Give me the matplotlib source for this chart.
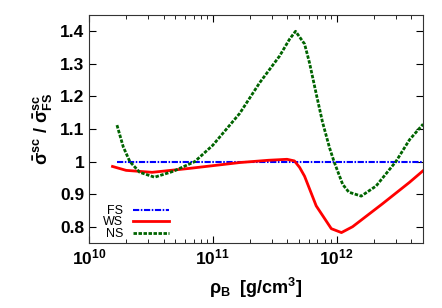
import matplotlib
matplotlib.use("Agg")
import matplotlib.pyplot as plt
import numpy as np

plt.rcParams['font.family'] = ['Liberation Sans', 'DejaVu Sans']
plt.rcParams['mathtext.fontset'] = 'custom'
plt.rcParams['mathtext.rm'] = 'Liberation Sans:bold'
plt.rcParams['mathtext.it'] = 'Liberation Sans:bold'
plt.rcParams['mathtext.bf'] = 'Liberation Sans:bold'

# log10 of density (g/cm^3)
ns_logx = [10.226, 10.277, 10.33, 10.41, 10.53, 10.68, 10.855, 11.0, 11.218, 11.379,
           11.540, 11.621, 11.669, 11.742, 11.782, 11.839, 11.887, 11.944, 11.98, 12.05,
           12.10, 12.20, 12.32, 12.48, 12.59, 12.70]
ns_y = [1.112, 1.045, 1.0, 0.967, 0.952, 0.970, 1.0, 1.05, 1.148, 1.242,
        1.324, 1.376, 1.4, 1.361, 1.303, 1.203, 1.121, 1.042, 1.0, 0.93,
        0.906, 0.894, 0.925, 1.0, 1.067, 1.115]

ws_logx = [10.19, 10.30, 10.51, 10.81, 11.218, 11.45, 11.6, 11.66, 11.702, 11.742,
           11.836, 11.958, 12.04, 12.13, 12.37, 12.589, 12.70]
ws_y = [0.985, 0.973, 0.967, 0.979, 0.997, 1.004, 1.007, 1.002, 0.982, 0.955,
        0.864, 0.794, 0.782, 0.80, 0.87, 0.936, 0.972]

fs_logx = [10.226, 12.70]
fs_y = [1.0, 1.0]

fig = plt.figure(figsize=(4.42, 3.08), dpi=100)
ax = fig.add_axes([89/442, 1-243/308, (423-89)/442, (243-15)/308])

ax.plot(10**np.array(fs_logx), fs_y, color='#0000ff', ls=(0, (3, 0.75, 0.75, 0.75)), lw=1.5, label='FS')
ax.plot(10**np.array(ws_logx), ws_y, color='#ff0000', ls='-', lw=2.0, label='WS')
ax.plot(10**np.array(ns_logx), ns_y, color='#006400', ls=(0, (1.25, 0.55)), lw=2.0, label='NS')

ax.set_xscale('log')
ax.set_xlim(1e10, 5e12)
ax.set_ylim(0.75, 1.45)
ax.set_yticks([0.8, 0.9, 1.0, 1.1, 1.2, 1.3, 1.4])
ax.set_yticklabels(['0.8', '0.9', '1', '1.1', '1.2', '1.3', '1.4'])
ax.tick_params(axis='both', which='both', direction='in', top=True, right=True)
ax.tick_params(axis='both', which='major', length=5, labelsize=12.5)
ax.tick_params(axis='both', which='minor', length=3)
for lab in ax.get_xticklabels() + ax.get_yticklabels():
    lab.set_fontweight('bold')
for s in ax.spines.values():
    s.set_linewidth(0.8)
    s.set_color('#333333')

ax.set_xlabel(r'$\rho_{\mathbf{B}}$  [g/cm$^{\mathbf{3}}$]', fontsize=13, fontweight='bold', labelpad=6)
ax.set_ylabel(r'$\bar{\sigma}^{\mathbf{sc}}$ / $\bar{\sigma}^{\mathbf{sc}}_{\mathbf{FS}}$', fontsize=13, fontweight='bold', labelpad=4)

leg = ax.legend(loc='lower left', bbox_to_anchor=(0.042, 0.015), frameon=False, markerfirst=False,
                fontsize=9, handlelength=2.9, labelspacing=-0.05, handletextpad=0.8,
                borderpad=0, borderaxespad=0, handleheight=0.5)
for t in leg.get_texts():
    t.set_ha('right')

fig.savefig('out.png', dpi=100)
